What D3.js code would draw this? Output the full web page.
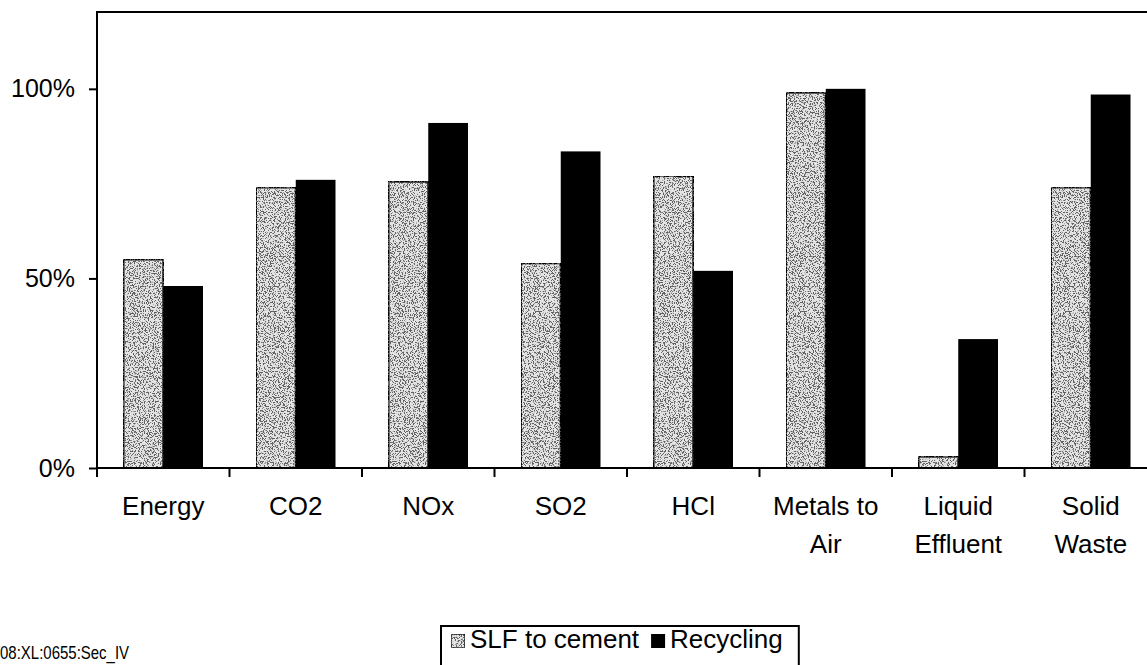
<!DOCTYPE html>
<html>
<head>
<meta charset="utf-8">
<script src="https://cdn.jsdelivr.net/npm/d3@7"></script>
<style>
  html, body { margin: 0; padding: 0; background: #fff; overflow: hidden; }
  svg { display: block; font-family: "Liberation Sans", Arial, Helvetica, sans-serif; }
</style>
</head>
<body>
<svg id="chart" width="1147" height="665"></svg>
<script>
// Relative impact of each option, percent
const categories = ["Energy", "CO2", "NOx", "SO2", "HCl", "Metals to Air", "Liquid Effluent", "Solid Waste"];
const categoryLines = [["Energy"], ["CO2"], ["NOx"], ["SO2"], ["HCl"], ["Metals to", "Air"], ["Liquid", "Effluent"], ["Solid", "Waste"]];
const seriesNames = ["SLF to cement", "Recycling"];
const slfToCement = [55, 74, 75.5, 54, 77, 99, 3, 74];
const recycling = [48, 76, 91, 83.5, 52, 100, 34, 98.5];
const yTicks = [0, 50, 100];
const footnote = "08:XL:0655:Sec_IV";

const svg = d3.select("#chart");
const plotLeft = 97, plotTop = 12, plotBottom = 468, step = 132.5;

// stippled fill for the first series
const defs = svg.append("defs");
const f = defs.append("filter").attr("id", "stipple")
  .attr("x", 0).attr("y", 0).attr("width", 1).attr("height", 1)
  .attr("filterUnits", "objectBoundingBox");
f.append("feTurbulence").attr("type", "fractalNoise")
  .attr("baseFrequency", 0.8).attr("numOctaves", 2).attr("seed", 7).attr("result", "noise");
f.append("feColorMatrix").attr("in", "noise").attr("type", "matrix")
  .attr("values", "0 0 0 0 0.12  0 0 0 0 0.12  0 0 0 0 0.12  14 0 0 0 -7.2")
  .attr("result", "dots");
f.append("feComposite").attr("in", "dots").attr("in2", "SourceGraphic").attr("operator", "in").attr("result", "clipped");
const m = f.append("feMerge");
m.append("feMergeNode").attr("in", "SourceGraphic");
m.append("feMergeNode").attr("in", "clipped");

const x0 = d3.scaleBand().domain(categories).range([plotLeft, plotLeft + step * categories.length]).padding(0);
const x1 = d3.scaleBand().domain(seriesNames).range([0.2 * x0.bandwidth(), 0.8 * x0.bandwidth()]).padding(0);
const y = d3.scaleLinear().domain([0, 120]).range([plotBottom, plotTop + 1]);

const rows = categories.map((c, i) => ({ category: c, values: [
  { series: seriesNames[0], value: slfToCement[i] },
  { series: seriesNames[1], value: recycling[i] }
]}));

const fills = { "SLF to cement": "#e4e4e4", "Recycling": "#000" };

// bars
const groups = svg.append("g").selectAll("g").data(rows).join("g")
  .attr("transform", d => `translate(${x0(d.category)},0)`);
groups.selectAll("rect").data(d => d.values).join("rect")
  .attr("x", d => x1(d.series))
  .attr("y", d => y(d.value))
  .attr("width", x1.bandwidth())
  .attr("height", d => y(0) - y(d.value))
  .attr("fill", d => fills[d.series])
  .attr("stroke", "#000")
  .attr("stroke-width", d => d.series === seriesNames[0] ? 2 : 0)
  .attr("filter", d => d.series === seriesNames[0] ? "url(#stipple)" : null);

// y axis
const yAxis = svg.append("g").attr("transform", `translate(${plotLeft},0)`)
  .call(d3.axisLeft(y).tickValues(yTicks).tickSize(8).tickPadding(14)
    .tickFormat(d => d + "%"));
yAxis.select(".domain").remove();
yAxis.selectAll("line").attr("stroke", "#000").attr("stroke-width", 2);
yAxis.selectAll("text").attr("font-size", 25).attr("fill", "#000")
  .attr("font-family", "'Liberation Sans', Arial, sans-serif");

// frame lines: left axis, top edge, baseline
svg.append("line").attr("x1", plotLeft).attr("x2", plotLeft).attr("y1", plotTop - 1).attr("y2", plotBottom + 1)
  .attr("stroke", "#000").attr("stroke-width", 2);
svg.append("line").attr("x1", plotLeft - 1).attr("x2", 1147).attr("y1", plotTop).attr("y2", plotTop)
  .attr("stroke", "#000").attr("stroke-width", 2);
svg.append("line").attr("x1", plotLeft - 1).attr("x2", 1147).attr("y1", plotBottom).attr("y2", plotBottom)
  .attr("stroke", "#000").attr("stroke-width", 2);

// x ticks at category boundaries
const boundaries = categories.map(c => x0(c)).concat([x0.range()[1]]);
svg.append("g").selectAll("line").data(boundaries).join("line")
  .attr("x1", d => d).attr("x2", d => d).attr("y1", plotBottom).attr("y2", plotBottom + 9)
  .attr("stroke", "#000").attr("stroke-width", 2);

// category labels
const lbl = svg.append("g").selectAll("text").data(categories).join("text")
  .attr("text-anchor", "middle").attr("font-size", 26).attr("fill", "#000")
  .attr("x", c => x0(c) + x0.bandwidth() / 2);
lbl.selectAll("tspan").data((c, i) => categoryLines[i]).join("tspan")
  .attr("x", function () { return d3.select(this.parentNode).attr("x"); })
  .attr("y", (d, j) => 515 + j * 38)
  .text(d => d);

// legend
const lg = svg.append("g");
const box = lg.append("rect").attr("x", 441).attr("y", 626).attr("height", 60)
  .attr("fill", "#fff").attr("stroke", "#000").attr("stroke-width", 2);
let lx = 451;
seriesNames.forEach((s, i) => {
  lg.append("rect").attr("x", lx).attr("y", 634).attr("width", 14).attr("height", 14)
    .attr("fill", fills[s]).attr("stroke", "#000").attr("stroke-width", i === 0 ? 1.5 : 0)
    .attr("filter", i === 0 ? "url(#stipple)" : null);
  const t = lg.append("text").attr("x", lx + 19).attr("y", 648).attr("font-size", 26)
    .attr("fill", "#000").text(s);
  lx = lx + 19 + t.node().getComputedTextLength() + 12;
});
box.attr("width", lx - 441 + 4);

// document reference
svg.append("text").attr("transform", "translate(0,659) scale(1,1.2)")
  .attr("font-size", 15).attr("fill", "#000").text(footnote);
</script>
</body>
</html>
